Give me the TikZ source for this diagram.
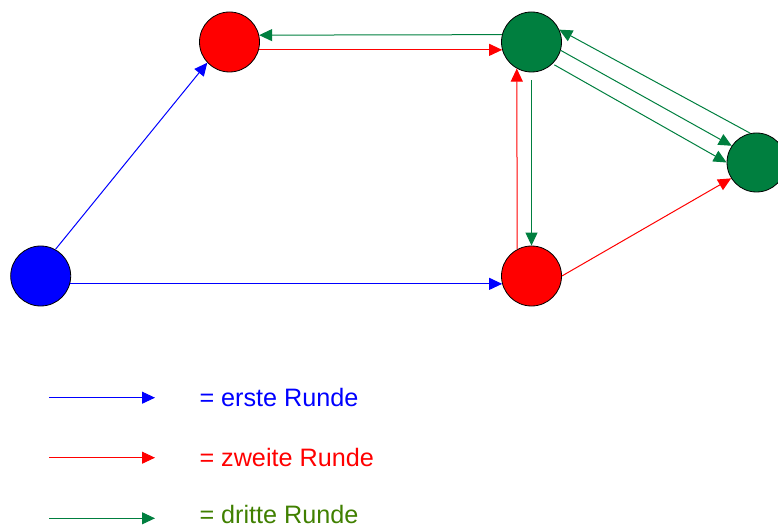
\documentclass[tikz,border=0pt]{standalone}
\usepackage{fontspec}
\setmainfont{Liberation Sans}
\usetikzlibrary{arrows.meta}
\definecolor{ngreen}{RGB}{0,127,63}
\definecolor{tgreen}{RGB}{64,128,0}
\tikzset{
  dot/.style={circle, draw=black, line width=0.8pt, minimum size=60pt, inner sep=0pt},
  conn/.style={line width=1pt, -{Triangle[length=13pt,width=12pt]}},
  legtext/.style={anchor=base west, inner sep=0pt, font=\fontsize{25.2}{29}\selectfont}
}
\begin{document}
\begin{tikzpicture}[x=1pt,y=-1pt]
\useasboundingbox (0,0) rectangle (778,529);
% nodes
\node[dot, fill=blue] (b) at (40.7,276) {};
\node[dot, fill=red] (rt) at (229.5,42) {};
\node[dot, fill=ngreen] (gt) at (531.5,42) {};
\node[dot, fill=red] (rb) at (531.5,276) {};
\node[dot, fill=ngreen, minimum size=59pt] (gr) at (756.5,162.5) {};
% first round
\draw[conn, blue] (b.61) -- (rt.223);
\draw[conn, blue] (b.-15.5) -- (rb.195.5);
% second round
\draw[conn, red] (rt.-15.5) -- (gt.195.5);
\draw[conn, red] (rb.118.5) -- (gt.241.5);
\draw[conn, red] (rb.east) -- (gr.212);
% third round
\draw[conn, ngreen] (gt.166.5) -- (rt.13.5);
\draw[conn, ngreen, shorten <=8pt] (gt.south) -- (rb.north);
\draw[conn, ngreen] (gr.102.5) -- (gt.24);
\draw[conn, ngreen] (gt.-16) -- (gr.146);
\draw[conn, ngreen, shorten <=2pt] (gt.-46.5) -- (gr.180);
% legend
\coordinate (l1a) at (49,397.7); \coordinate (l1b) at (155,397.7);
\coordinate (l2a) at (49,457.7); \coordinate (l2b) at (155,457.7);
\coordinate (l3a) at (49,518.3); \coordinate (l3b) at (155,518.3);
\draw[conn, blue] (l1a) -- (l1b);
\draw[conn, red] (l2a) -- (l2b);
\draw[conn, ngreen] (l3a) -- (l3b);
\node[legtext, text=blue] (t1) at (199.3,406.7) {= erste Runde};
\node[legtext, text=red] (t2) at (199.3,466.7) {= zweite Runde};
\node[legtext, text=tgreen] (t3) at (199.3,523.5) {= dritte Runde};
\end{tikzpicture}
\end{document}
